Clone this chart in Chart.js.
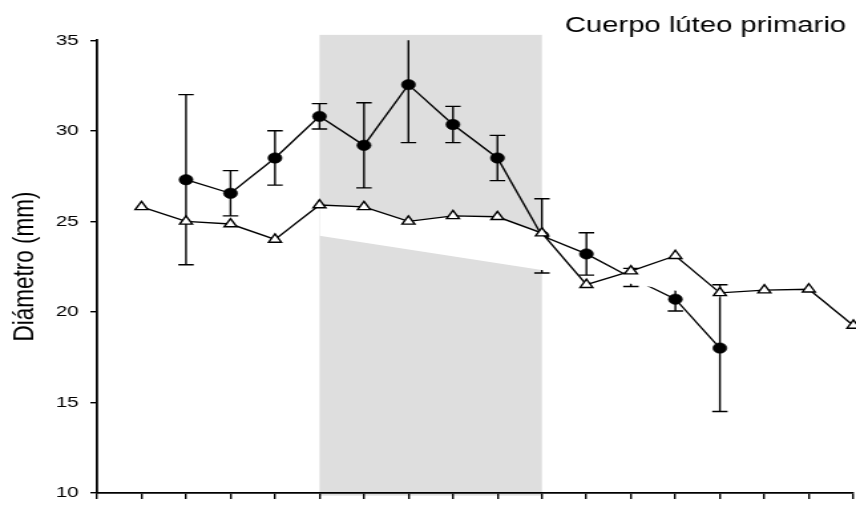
<!DOCTYPE html>
<html>
<head>
<meta charset="utf-8">
<script src="https://cdn.jsdelivr.net/npm/chart.js@4/dist/chart.umd.min.js"></script>
<style>
  html, body { margin: 0; padding: 0; background: #fff; overflow: hidden; }
  /* the canvas is drawn narrower and widened by CSS, giving the wide lettering */
  #grafico { display: block; width: 856px !important; height: 511px !important; }
</style>
</head>
<body>
<canvas id="grafico" width="644" height="511" style="width:856px;height:511px"></canvas>
<script>
// X axis positions (tick marks without labels)
const dias = [0, 1, 2, 3, 4, 5, 6, 7, 8, 9, 10, 11, 12, 13, 14, 15, 16, 17];
// Y axis ticks
const marcasY = [10, 15, 20, 25, 30, 35];

// Open triangles
const diasTriangulos = [1, 2, 3, 4, 5, 6, 7, 8, 9, 10, 11, 12, 13, 14, 15, 16, 17];
const diametroTriangulos = [25.8, 25.0, 24.85, 24.0, 25.9, 25.8, 25.0, 25.3, 25.25, 24.35, 21.5, 22.25, 23.1, 21.05, 21.2, 21.25, 19.25];

// Filled circles with their error bars
const diasCirculos = [2, 3, 4, 5, 6, 7, 8, 9, 10, 11, 12, 13, 14];
const diametroCirculos = [27.3, 26.55, 28.5, 30.8, 29.2, 32.55, 30.35, 28.5, 24.2, 23.2, 21.9, 20.7, 18.0];
const errorCirculos = [4.7, 1.25, 1.5, 0.7, 2.35, 3.2, 1.0, 1.25, 2.05, 1.17, 0.5, 0.65, 3.5];

// Grey period
const periodoSombreado = [5, 10];
const limitesSombreado = [9.85, 35.3];

// White band under the triangle line
const bandaBlancaDias = [5, 14];
const bandaBlancaDiametro = [24.2, 20.8];

const titulo = 'Cuerpo lúteo primario';
const tituloEjeY = 'Diámetro (mm)';

const FUENTE = '"Liberation Sans", Arial, Helvetica, sans-serif';
const INDICE_CIRCULOS = 2;
const ANCHO_EJE_Y = 73;

const pluginSombreado = {
  id: 'periodoSombreado',
  beforeDraw(chart) {
    const { ctx, scales: { x, y } } = chart;
    const x0 = x.getPixelForValue(periodoSombreado[0]);
    const x1 = x.getPixelForValue(periodoSombreado[1]);
    const yArriba = y.getPixelForValue(limitesSombreado[1]);
    const yAbajo = y.getPixelForValue(limitesSombreado[0]);
    ctx.save();
    ctx.fillStyle = '#dedede';
    ctx.fillRect(x0, yArriba, x1 - x0, yAbajo - yArriba);
    ctx.restore();
  }
};

const pluginErrores = {
  id: 'barrasError',
  afterDatasetDraw(chart, args) {
    if (args.index !== INDICE_CIRCULOS) return;
    const { ctx, chartArea: a, scales: { x, y } } = chart;
    const capa = 5.8;
    ctx.save();
    ctx.beginPath();
    ctx.rect(a.left - 10, a.top, a.right - a.left + 20, a.bottom - a.top);
    ctx.clip();
    ctx.strokeStyle = '#000';
    ctx.lineWidth = 1.4;
    diasCirculos.forEach((d, i) => {
      const px = x.getPixelForValue(d);
      const yAlto = y.getPixelForValue(diametroCirculos[i] + errorCirculos[i]);
      const yBajo = y.getPixelForValue(diametroCirculos[i] - errorCirculos[i]);
      ctx.beginPath();
      ctx.moveTo(px, yAlto); ctx.lineTo(px, yBajo);
      ctx.moveTo(px - capa, yAlto); ctx.lineTo(px + capa, yAlto);
      ctx.moveTo(px - capa, yBajo); ctx.lineTo(px + capa, yBajo);
      ctx.stroke();
    });
    ctx.restore();
  }
};

const pluginTitulo = {
  id: 'tituloDerecha',
  afterDraw(chart) {
    const { ctx, chartArea: a } = chart;
    ctx.save();
    ctx.font = '22px ' + FUENTE;
    ctx.fillStyle = '#000';
    ctx.textAlign = 'right';
    ctx.textBaseline = 'alphabetic';
    ctx.fillText(titulo, a.right - 5.5, 32);
    ctx.restore();
  }
};

const ejeNegro = { display: true, color: '#000', width: 1.8 };

new Chart(document.getElementById('grafico'), {
  type: 'line',
  data: {
    datasets: [
      {
        data: diasTriangulos.map((d, i) => ({ x: d, y: diametroTriangulos[i] })),
        borderColor: '#000',
        borderWidth: 1.4,
        tension: 0,
        fill: false,
        pointStyle: 'triangle',
        pointRadius: 5.5,
        pointBackgroundColor: '#fff',
        pointBorderColor: '#000',
        pointBorderWidth: 1.4,
        clip: false
      },
      {
        data: bandaBlancaDias.map((d, i) => ({ x: d, y: bandaBlancaDiametro[i] })),
        borderColor: 'rgba(0,0,0,0)',
        borderWidth: 0,
        pointRadius: 0,
        tension: 0,
        fill: 0,
        backgroundColor: '#fff'
      },
      {
        data: diasCirculos.map((d, i) => ({ x: d, y: diametroCirculos[i] })),
        borderColor: '#000',
        borderWidth: 1.4,
        tension: 0,
        fill: false,
        pointStyle: 'circle',
        pointRadius: 5.2,
        pointBackgroundColor: '#000',
        pointBorderColor: '#000',
        pointBorderWidth: 0.6,
        clip: false
      }
    ]
  },
  options: {
    responsive: false,
    animation: false,
    devicePixelRatio: 1,
    layout: { autoPadding: false, padding: { top: 40.3, bottom: 8, left: 0, right: 2 } },
    plugins: {
      legend: { display: false },
      tooltip: { enabled: false },
      title: { display: false }
    },
    scales: {
      x: {
        type: 'linear',
        min: dias[0],
        max: dias[dias.length - 1],
        afterBuildTicks: s => { s.ticks = dias.map(v => ({ value: v })); },
        ticks: { display: false },
        grid: { display: true, drawOnChartArea: false, drawTicks: true, tickLength: 6, color: '#000', lineWidth: 1.4 },
        border: ejeNegro
      },
      y: {
        type: 'linear',
        min: marcasY[0],
        max: marcasY[marcasY.length - 1],
        afterBuildTicks: s => { s.ticks = marcasY.map(v => ({ value: v })); },
        afterFit: s => { s.width = ANCHO_EJE_Y; },
        ticks: { color: '#000', font: { family: FUENTE, size: 15.5 }, padding: 8.8 },
        grid: { display: true, drawOnChartArea: false, drawTicks: true, tickLength: 5, color: '#000', lineWidth: 1.4 },
        border: ejeNegro,
        title: {
          display: true,
          text: tituloEjeY,
          color: '#000',
          font: { family: FUENTE, size: 22.5 },
          padding: { top: 4.8, bottom: 10.2 }
        }
      }
    }
  },
  plugins: [pluginSombreado, pluginErrores, pluginTitulo]
});
</script>
</body>
</html>
